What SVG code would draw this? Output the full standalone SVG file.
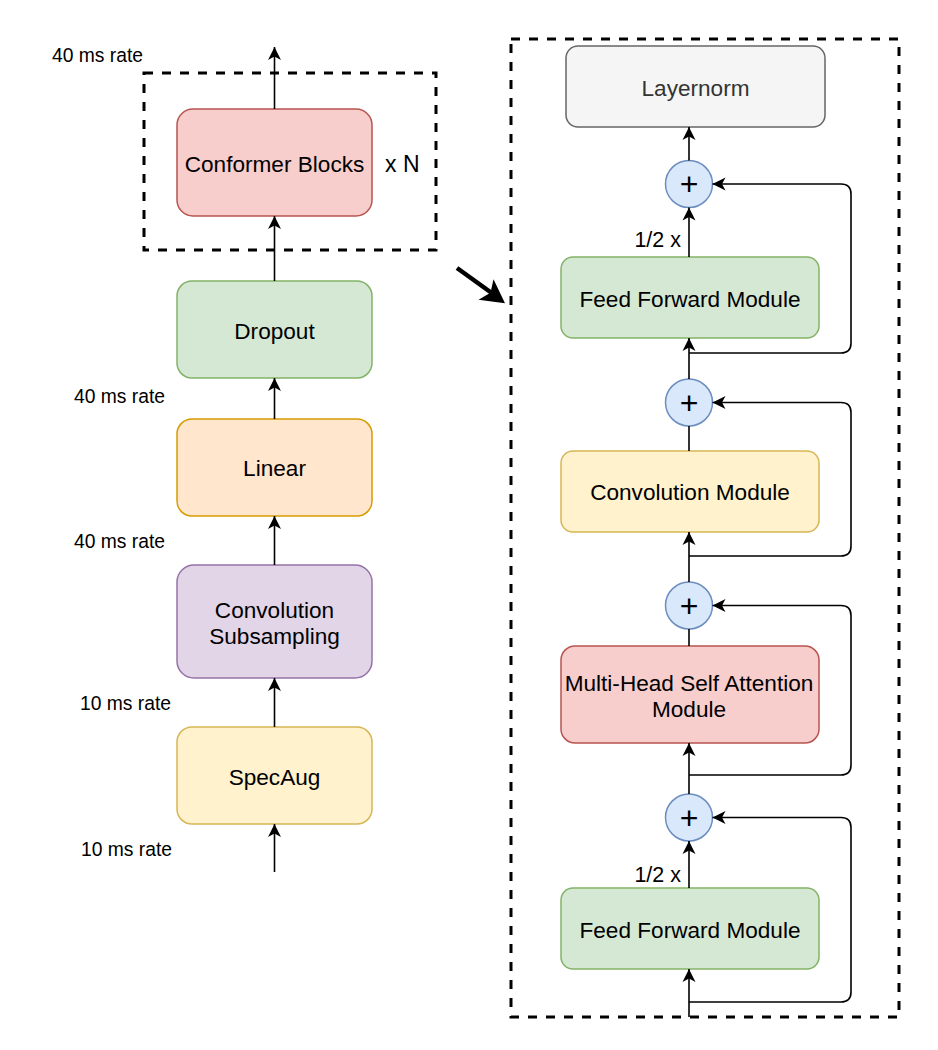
<svg xmlns="http://www.w3.org/2000/svg" width="938" height="1050" viewBox="0 0 938 1050">
<style>
  text { font-family: "Liberation Sans", Arial, Helvetica, sans-serif; fill: #000; }
  .lbl { font-size: 22.6px; text-anchor: middle; }
  .rate { font-size: 19.3px; }
  .half { font-size: 21.5px; text-anchor: end; }
  .plus { font-size: 32px; text-anchor: middle; }
  .box { stroke-width: 1.5; }
  .edge { fill: none; stroke: #000; stroke-width: 1.6; }
  .arr { marker-end: url(#ah); }
  .dash { fill: none; stroke: #000; stroke-width: 3; stroke-dasharray: 9 9; }
  .circ { fill: #dae8fc; stroke: #6c8ebf; stroke-width: 1.5; }
</style>
<defs>
  <marker id="ah" viewBox="-14 -7.5 15 15" refX="0" refY="0" markerWidth="15" markerHeight="15" markerUnits="userSpaceOnUse" orient="auto">
    <path d="M0,0 L-13,-6.5 L-9.5,0 L-13,6.5 Z" fill="#000"/>
  </marker>
</defs>
<rect width="938" height="1050" fill="#fff"/>

<!-- containers -->
<g id="repeat-box">
  <rect class="dash" x="144" y="73" width="292" height="177"/>
  <text x="385" y="172" style="font-size:23px">x N</text>
</g>
<g id="block-detail">
  <rect class="dash" x="511" y="39" width="388" height="978"/>
</g>

<!-- left column nodes -->
<g id="conformer-blocks">
  <rect class="box" x="177" y="109" width="195" height="107" rx="16" fill="#f8cecc" stroke="#b85450"/>
  <text class="lbl" x="274.5" y="172">Conformer Blocks</text>
</g>
<g id="dropout">
  <rect class="box" x="177" y="281" width="195" height="97" rx="15" fill="#d5e8d4" stroke="#82b366"/>
  <text class="lbl" x="274.5" y="339">Dropout</text>
</g>
<g id="linear">
  <rect class="box" x="177" y="419" width="195" height="97" rx="15" fill="#ffe6cc" stroke="#d79b00"/>
  <text class="lbl" x="274.5" y="476">Linear</text>
</g>
<g id="conv-subsampling">
  <rect class="box" x="177" y="565" width="195" height="113" rx="17" fill="#e1d5e7" stroke="#9673a6"/>
  <text class="lbl" x="274.5" y="618">Convolution</text>
  <text class="lbl" x="274.5" y="644">Subsampling</text>
</g>
<g id="specaug">
  <rect class="box" x="177" y="727" width="195" height="97" rx="15" fill="#fff2cc" stroke="#d6b656"/>
  <text class="lbl" x="274.5" y="785">SpecAug</text>
</g>

<g id="rate-labels">
  <text class="rate" x="52" y="62">40 ms rate</text>
  <text class="rate" x="74" y="403">40 ms rate</text>
  <text class="rate" x="74" y="548">40 ms rate</text>
  <text class="rate" x="80" y="710">10 ms rate</text>
  <text class="rate" x="81" y="856">10 ms rate</text>
</g>

<!-- right column nodes -->
<g id="layernorm">
  <rect class="box" x="566" y="46" width="259" height="81" rx="12" fill="#f5f5f5" stroke="#666666"/>
  <text class="lbl" x="695.5" y="96" style="fill:#333333">Layernorm</text>
</g>
<g id="ff-top">
  <rect class="box" x="561" y="257" width="258" height="81" rx="12" fill="#d5e8d4" stroke="#82b366"/>
  <text class="lbl" x="690" y="307">Feed Forward Module</text>
</g>
<g id="conv-module">
  <rect class="box" x="561" y="451" width="258" height="81" rx="12" fill="#fff2cc" stroke="#d6b656"/>
  <text class="lbl" x="690" y="500">Convolution Module</text>
</g>
<g id="mhsa">
  <rect class="box" x="561" y="646" width="258" height="97" rx="14" fill="#f8cecc" stroke="#b85450"/>
  <text class="lbl" x="689" y="691">Multi-Head Self Attention</text>
  <text class="lbl" x="689" y="717">Module</text>
</g>
<g id="ff-bottom">
  <rect class="box" x="561" y="888" width="258" height="81" rx="12" fill="#d5e8d4" stroke="#82b366"/>
  <text class="lbl" x="690" y="938">Feed Forward Module</text>
</g>

<g id="add-1">
  <circle class="circ" cx="689" cy="184" r="23.5"/>
  <text class="plus" x="689" y="195">+</text>
</g>
<g id="add-2">
  <circle class="circ" cx="689" cy="402.5" r="23.5"/>
  <text class="plus" x="689" y="413.5">+</text>
</g>
<g id="add-3">
  <circle class="circ" cx="689" cy="605.5" r="23.5"/>
  <text class="plus" x="689" y="616.5">+</text>
</g>
<g id="add-4">
  <circle class="circ" cx="689" cy="817.5" r="23.5"/>
  <text class="plus" x="689" y="828.5">+</text>
</g>

<!-- connectors -->
<g id="connectors">
  <!-- left column -->
  <path class="edge arr" d="M274.5,872 V824"/>
  <path class="edge arr" d="M274.5,727 V678"/>
  <path class="edge arr" d="M274.5,565 V516"/>
  <path class="edge arr" d="M274.5,419 V378"/>
  <path class="edge arr" d="M274.5,281 V216"/>
  <path class="edge arr" d="M274.5,109 V47"/>

  <!-- right column main path -->
  <path class="edge arr" d="M689,1017 V969"/>
  <path class="edge arr" d="M689,888 V841"/>
  <path class="edge arr" d="M689,794 V743"/>
  <path class="edge" d="M689,646 V629"/>
  <path class="edge arr" d="M689,582 V532"/>
  <path class="edge" d="M689,451 V426"/>
  <path class="edge arr" d="M689,379 V338"/>
  <path class="edge arr" d="M689,257 V207.5"/>
  <path class="edge arr" d="M689,160.5 V127"/>

  <!-- residual loops -->
  <path class="edge arr" d="M689,1002 H841 Q851,1002 851,992 V827.5 Q851,817.5 841,817.5 H712.5"/>
  <path class="edge arr" d="M689,775 H841 Q851,775 851,765 V615.5 Q851,605.5 841,605.5 H712.5"/>
  <path class="edge arr" d="M689,556 H841 Q851,556 851,546 V412.5 Q851,402.5 841,402.5 H712.5"/>
  <path class="edge arr" d="M689,353 H841 Q851,353 851,343 V194 Q851,184 841,184 H712.5"/>

  <!-- zoom-in arrow -->
  <line x1="457" y1="268" x2="491" y2="292.5" stroke="#000" stroke-width="4.5"/>
  <polygon points="505,303.3 493.5,279.2 490.5,292.7 478.5,299.8" fill="#000"/>
</g>

<g id="scale-labels">
  <text class="half" x="681" y="247">1/2 x</text>
  <text class="half" x="681" y="882">1/2 x</text>
</g>
</svg>
